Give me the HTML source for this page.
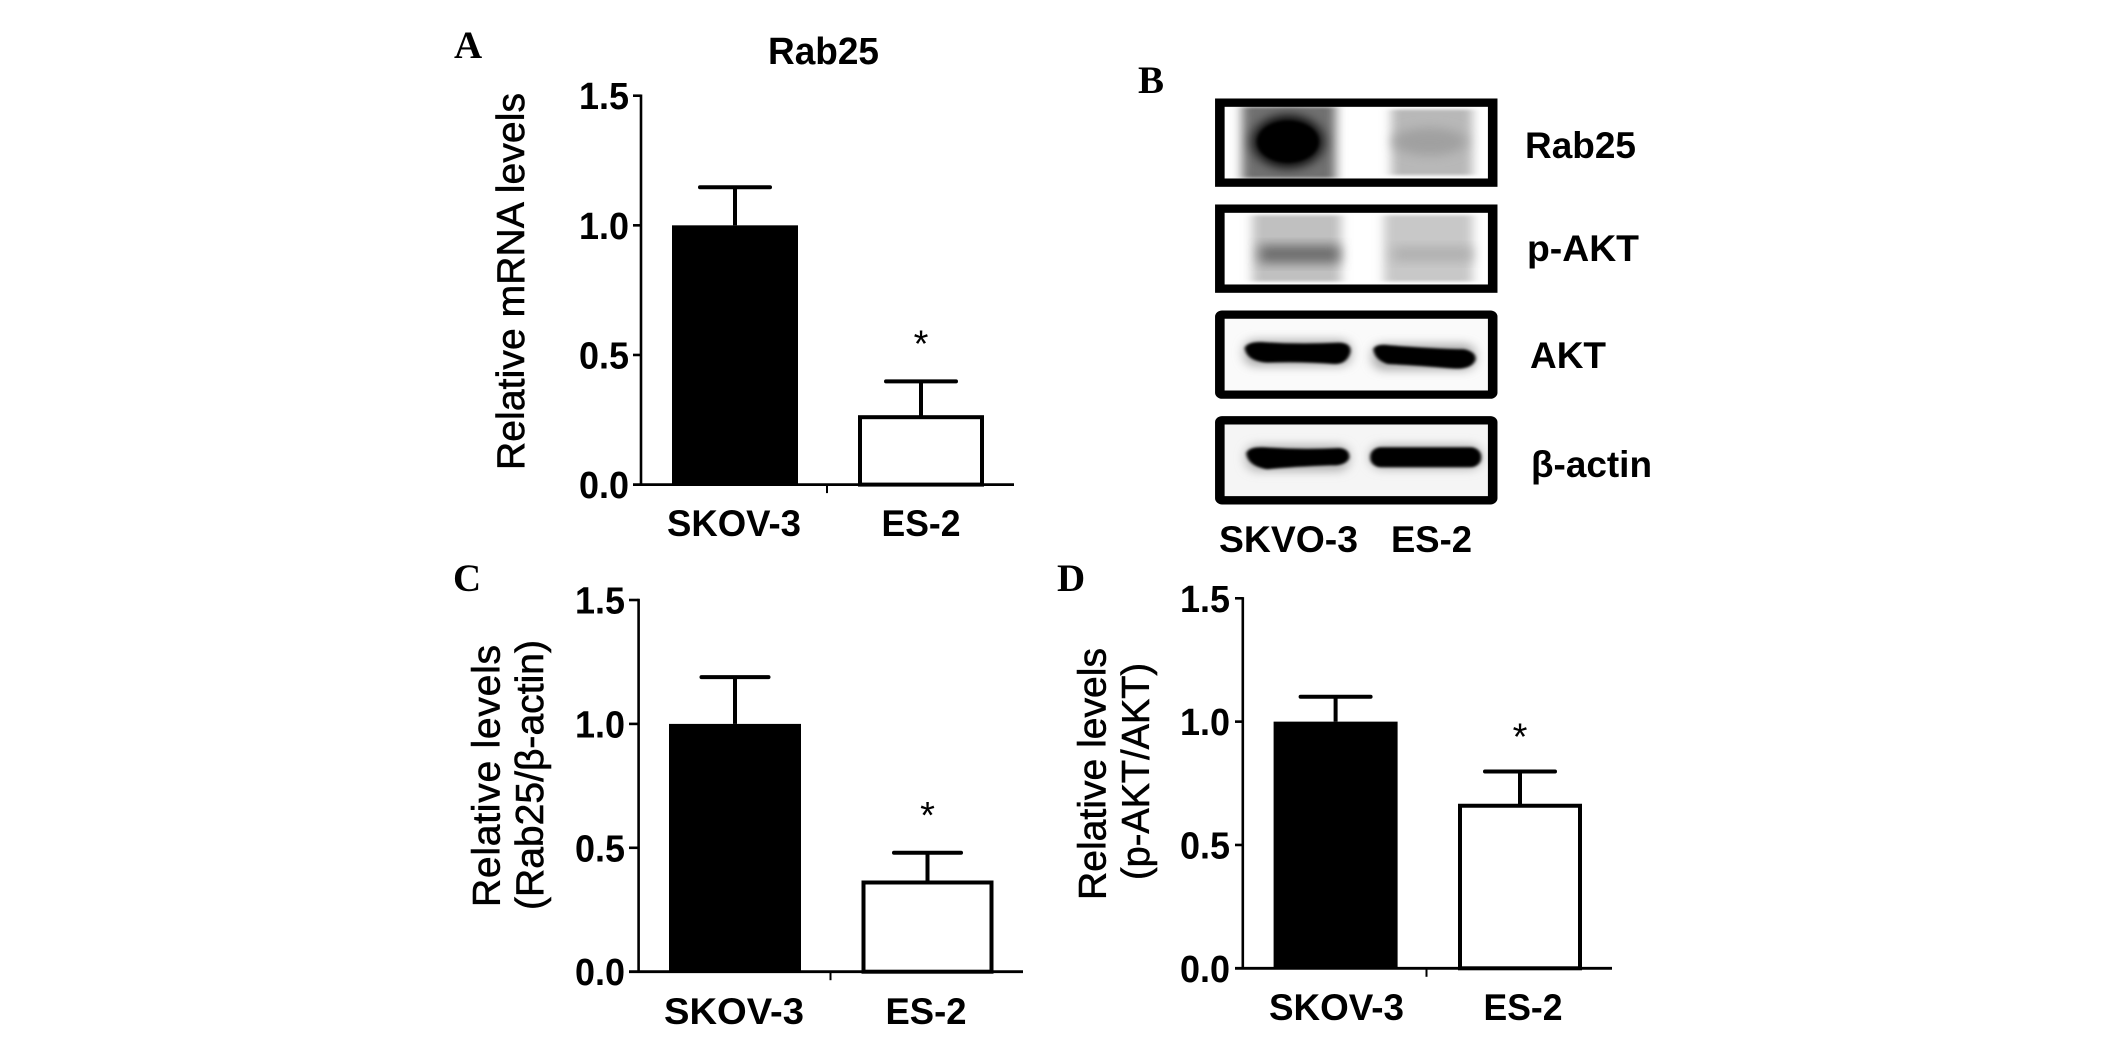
<!DOCTYPE html>
<html lang="en">
<head>
<meta charset="utf-8">
<title>Rab25 and p-AKT relative levels in SKOV-3 and ES-2 cells</title>
<style>
html,body{margin:0;padding:0;background:#fff;width:2126px;height:1039px;overflow:hidden}
svg{display:block}
text{font-family:"Liberation Sans",Arial,sans-serif;fill:#000}
.letter{font-family:"Liberation Serif","Times New Roman",serif;font-weight:bold;font-size:39px}
.tick{font-weight:bold;font-size:38px;text-anchor:end}
.cat{font-weight:bold;font-size:37px}
.ytitle{font-size:39px;stroke:#000;stroke-width:.6px}
.blot-label{font-weight:bold;font-size:37px}
</style>
</head>
<body>
<svg id="figure" xmlns="http://www.w3.org/2000/svg" width="2126" height="1039" viewBox="0 0 2126 1039">
  <defs>
    <filter id="blur-smear" x="-30%" y="-30%" width="160%" height="160%"><feGaussianBlur stdDeviation="14 5"/></filter>
    <filter id="blur-large" x="-40%" y="-40%" width="180%" height="180%"><feGaussianBlur stdDeviation="16"/></filter>
    <filter id="blur-halo" x="-30%" y="-80%" width="160%" height="260%"><feGaussianBlur stdDeviation="14"/></filter>
    <filter id="blur-small" x="-20%" y="-50%" width="140%" height="200%"><feGaussianBlur stdDeviation="4"/></filter>
  </defs>
  <rect width="2126" height="1039" fill="#fff"/>

  <text class="letter" x="454" y="58">A</text>
  <text class="letter" x="1138" y="93">B</text>
  <text class="letter" x="453" y="591">C</text>
  <text class="letter" x="1057" y="591">D</text>

  <text x="768" y="64" font-weight="bold" font-size="38" textLength="111" lengthAdjust="spacingAndGlyphs">Rab25</text>

  <text class="ytitle" transform="translate(524,470) rotate(-90)" textLength="377" lengthAdjust="spacing">Relative mRNA levels</text>
  <text class="ytitle" transform="translate(499.5,907) rotate(-90)" textLength="262" lengthAdjust="spacing">Relative levels</text>
  <text class="ytitle" transform="translate(543,910) rotate(-90)" textLength="270" lengthAdjust="spacing">(Rab25/β-actin)</text>
  <text class="ytitle" transform="translate(1105.5,900) rotate(-90)" textLength="252" lengthAdjust="spacingAndGlyphs">Relative levels</text>
  <text class="ytitle" transform="translate(1149,880) rotate(-90)" textLength="217" lengthAdjust="spacingAndGlyphs">(p-AKT/AKT)</text>

  <g transform="translate(1110,50) scale(.3827,.3333)">
    <g>
      <rect x="345" y="170" width="245" height="215" fill="#707070" filter="url(#blur-smear)"/>
      <ellipse cx="465" cy="275" rx="92" ry="78" fill="#000" filter="url(#blur-large)"/>
      <ellipse cx="465" cy="275" rx="80" ry="62" fill="#000" filter="url(#blur-small)"/>
      <rect x="735" y="178" width="212" height="198" fill="#b8b8b8" filter="url(#blur-smear)"/>
      <ellipse cx="835" cy="275" rx="95" ry="42" fill="#a0a0a0" filter="url(#blur-large)"/>
      <rect x="287" y="158" width="713" height="240" fill="none" stroke="#000" stroke-width="25"/>
    </g>
    <g>
      <rect x="372" y="495" width="232" height="200" fill="#c0c0c0" filter="url(#blur-smear)"/>
      <rect x="390" y="585" width="210" height="55" fill="#6e6e6e" filter="url(#blur-large)"/>
      <rect x="716" y="495" width="232" height="200" fill="#c8c8c8" filter="url(#blur-smear)"/>
      <rect x="740" y="590" width="205" height="45" fill="#b0b0b0" filter="url(#blur-large)"/>
      <rect x="287" y="476" width="713" height="240" fill="none" stroke="#000" stroke-width="25"/>
    </g>
    <g>
      <rect x="300" y="806" width="688" height="215" fill="#fafafa"/>
      <rect x="350" y="870" width="280" height="78" rx="30" fill="#aaa" filter="url(#blur-halo)"/>
      <rect x="685" y="882" width="270" height="78" rx="30" fill="#aaa" filter="url(#blur-halo)"/>
      <path d="M352 895 Q356 876 395 876 Q490 884 600 878 Q632 880 628 908 Q618 944 585 942 Q500 934 410 938 Q358 934 352 895 Z" fill="#000" filter="url(#blur-small)"/>
      <path d="M688 898 Q695 880 730 886 Q840 896 925 898 Q958 906 955 930 Q945 958 900 956 Q800 946 725 942 Q692 930 688 898 Z" fill="#000" filter="url(#blur-small)"/>
      <rect x="287" y="794" width="713" height="240" rx="6" fill="none" stroke="#000" stroke-width="25"/>
    </g>
    <g>
      <rect x="300" y="1124" width="688" height="215" fill="#f5f5f5"/>
      <rect x="355" y="1185" width="270" height="78" rx="30" fill="#b0b0b0" filter="url(#blur-halo)"/>
      <rect x="680" y="1185" width="290" height="72" rx="30" fill="#b0b0b0" filter="url(#blur-halo)"/>
      <path d="M356 1210 Q362 1190 400 1192 Q500 1200 600 1194 Q628 1198 625 1225 Q615 1248 580 1246 Q480 1250 410 1258 Q360 1248 356 1210 Z" fill="#000" filter="url(#blur-small)"/>
      <rect x="680" y="1192" width="290" height="60" rx="28" fill="#000" filter="url(#blur-small)"/>
      <rect x="287" y="1111" width="713" height="240" rx="6" fill="none" stroke="#000" stroke-width="25"/>
    </g>
  </g>

  <text class="blot-label" x="1525" y="158" textLength="111" lengthAdjust="spacingAndGlyphs">Rab25</text>
  <text class="blot-label" x="1527" y="261" textLength="112" lengthAdjust="spacingAndGlyphs">p-AKT</text>
  <text class="blot-label" x="1530" y="368" textLength="76" lengthAdjust="spacingAndGlyphs">AKT</text>
  <text class="blot-label" x="1531" y="477" textLength="121" lengthAdjust="spacingAndGlyphs">β-actin</text>
  <text class="blot-label" x="1219" y="552" textLength="139" lengthAdjust="spacingAndGlyphs">SKVO-3</text>
  <text class="blot-label" x="1391" y="552" textLength="81" lengthAdjust="spacingAndGlyphs">ES-2</text>

  <g id="charts"></g>
</svg>

<script>
const categories = ['SKOV-3', 'ES-2'];
const tickLabels = ['0.0', '0.5', '1.0', '1.5'];
const tickValues = [0, 0.5, 1, 1.5];
const axisMax = 1.5;

const valuesA = [1.0, 0.26];
const errorsA = [0.147, 0.138];
const significantA = [false, true];

const valuesC = [1.0, 0.36];
const errorsC = [0.189, 0.12];
const significantC = [false, true];

const valuesD = [1.0, 0.659];
const errorsD = [0.101, 0.139];
const significantD = [false, true];

const layoutA = {id: 'a', axisX: 641, xStart: 633, xEnd: 1014, y0: 484.6, yTop: 95.7, firstCenter: 735, step: 186, half: 63, capHalf: 35, tickRight: 629, catBaseline: 536, catWidths: [134, 79], catCenters: [734, 921], midTick: 827, starGap: 46};
const layoutC = {id: 'c', axisX: 638.6, xStart: 629, xEnd: 1023, y0: 971.7, yTop: 600, firstCenter: 735, step: 192.5, half: 66, capHalf: 33.5, tickRight: 625, catBaseline: 1024, catWidths: [140, 81], catCenters: [734, 926], midTick: 830.5, starGap: 46};
const layoutD = {id: 'd', axisX: 1242.8, xStart: 1235, xEnd: 1612, y0: 968.3, yTop: 598.3, firstCenter: 1335.6, step: 184.4, half: 62, capHalf: 35, tickRight: 1230, catBaseline: 1020, catWidths: [135, 79], catCenters: [1336.5, 1523], midTick: 1426.5, starGap: 43};

const SVG_NS = 'http://www.w3.org/2000/svg';
const chartsRoot = document.getElementById('charts');

function makeLine(parent, x1, y1, x2, y2, width, cap) {
  const el = document.createElementNS(SVG_NS, 'line');
  el.setAttribute('x1', x1);
  el.setAttribute('y1', y1);
  el.setAttribute('x2', x2);
  el.setAttribute('y2', y2);
  el.setAttribute('stroke', '#000');
  el.setAttribute('stroke-width', width);
  el.setAttribute('stroke-linecap', cap || 'butt');
  parent.appendChild(el);
  return el;
}

function makeText(parent, str, x, y, cls) {
  const el = document.createElementNS(SVG_NS, 'text');
  el.setAttribute('x', x);
  el.setAttribute('y', y);
  if (cls) el.setAttribute('class', cls);
  el.textContent = str;
  parent.appendChild(el);
  return el;
}

function drawChart(layout, values, errors, significant) {
  const yScale = function (v) {
    return layout.y0 - (v / axisMax) * (layout.y0 - layout.yTop);
  };
  const xCenter = function (i) {
    return layout.firstCenter + i * layout.step;
  };

  const group = document.createElementNS(SVG_NS, 'g');
  
  
  chartsRoot.appendChild(group);

  values.forEach(function (value, i) {
    const cx = xCenter(i);
    const key = 'panel-' + layout.id + '-' + categories[i].toLowerCase();
    const topY = yScale(value);
    const capY = yScale(value + errors[i]);

    const stem = makeLine(group, cx, topY, cx, capY, 4);
    
    

    const cap = makeLine(group, cx - layout.capHalf, capY, cx + layout.capHalf, capY, 4, 'round');
    
    

    const bar = document.createElementNS(SVG_NS, 'rect');
    const inset = i === 0 ? 0 : 2;
    bar.setAttribute('x', cx - layout.half + inset);
    bar.setAttribute('y', topY);
    bar.setAttribute('width', 2 * (layout.half - inset));
    bar.setAttribute('height', layout.y0 - topY);
    bar.setAttribute('fill', i === 0 ? '#000' : '#fff');
    bar.setAttribute('stroke', '#000');
    bar.setAttribute('stroke-width', i === 0 ? 0 : 4);
    
    
    group.appendChild(bar);

    const label = makeText(group, categories[i], layout.catCenters[i], layout.catBaseline, 'cat');
    label.setAttribute('text-anchor', 'middle');
    label.setAttribute('textLength', layout.catWidths[i]);
    label.setAttribute('lengthAdjust', 'spacingAndGlyphs');
    
    

    if (significant[i]) {
      const star = makeText(group, '*', cx, capY - layout.starGap + 21, null);
      star.setAttribute('text-anchor', 'middle');
      star.setAttribute('font-size', '38');
      
      
    }
  });

  const yAxis = makeLine(group, layout.axisX, layout.yTop - 1.2, layout.axisX, layout.y0 + 1.2, 2.6);
  
  

  const xAxis = makeLine(group, layout.xStart, layout.y0, layout.xEnd, layout.y0, 2.8);
  
  

  const midTick = makeLine(group, layout.midTick, layout.y0, layout.midTick, layout.y0 + 8.5, 2);
  
  

  tickValues.forEach(function (t, i) {
    const ty = yScale(t);
    if (t !== 0) {
      const mark = makeLine(group, layout.xStart, ty, layout.axisX, ty, 2.6);
      
      
    }
    const tickText = makeText(group, tickLabels[i], layout.tickRight, ty + 13.5, 'tick');
    tickText.setAttribute('textLength', 50);
    tickText.setAttribute('lengthAdjust', 'spacingAndGlyphs');
    
    
  });
}

drawChart(layoutA, valuesA, errorsA, significantA);
drawChart(layoutC, valuesC, errorsC, significantC);
drawChart(layoutD, valuesD, errorsD, significantD);
</script>
</body>
</html>
